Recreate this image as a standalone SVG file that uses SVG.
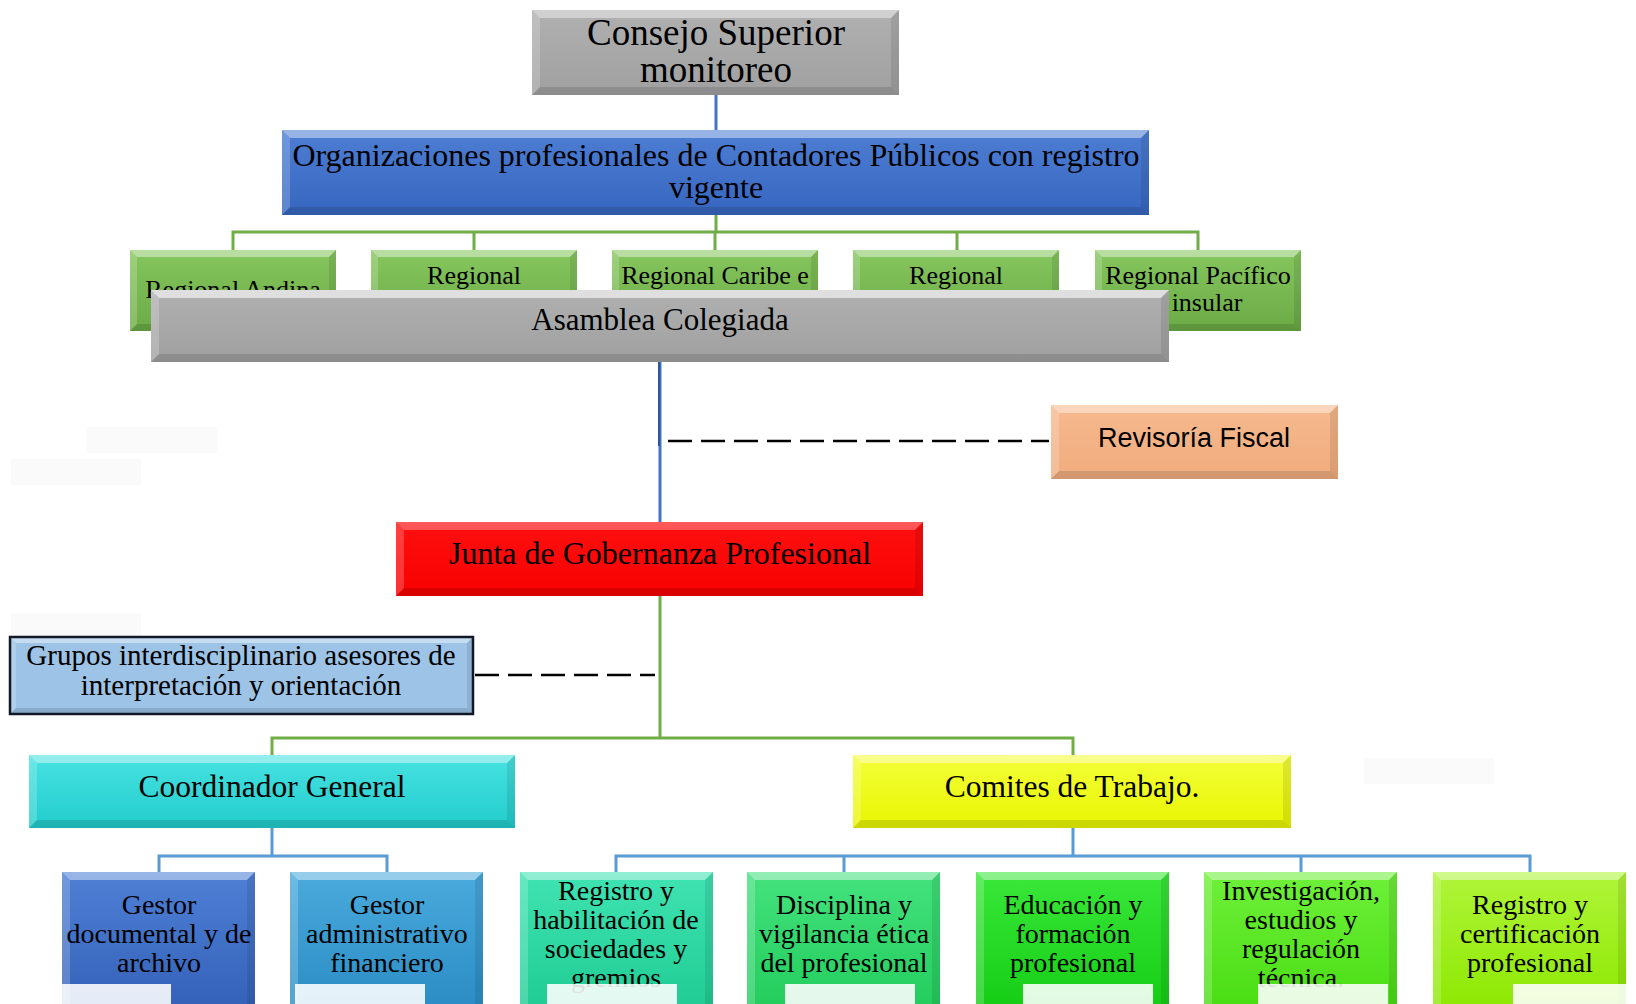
<svg xmlns="http://www.w3.org/2000/svg" width="1636" height="1004" viewBox="0 0 1636 1004">
<style>
.t{font-family:"Liberation Serif","Times New Roman",serif;fill:#000;text-anchor:middle}
.s{font-family:"Liberation Sans",Arial,sans-serif;fill:#000;text-anchor:middle}
.bt{fill:#fff;fill-opacity:.42}
.bl{fill:#fff;fill-opacity:.2}
.br{fill:#000;fill-opacity:.09}
.bb{fill:#000;fill-opacity:.12}
.cb{stroke:#4472C4;stroke-width:3;fill:none}
.cl{stroke:#5B9BD5;stroke-width:3;fill:none}
.cg{stroke:#70AD47;stroke-width:3;fill:none}
.dash{stroke:#000;stroke-width:2.5;stroke-dasharray:24 9;fill:none}
.pale{fill:#fff;fill-opacity:.88}
.faint{fill:#FAFAFA}
</style>
<defs>
<linearGradient id="gGray" x1="0" y1="0" x2="0" y2="1"><stop offset="0" stop-color="#B0B0B0"/><stop offset="1" stop-color="#A0A0A0"/></linearGradient>
<linearGradient id="gBlue" x1="0" y1="0" x2="0" y2="1"><stop offset="0" stop-color="#4D7ED3"/><stop offset="1" stop-color="#3766C0"/></linearGradient>
<linearGradient id="gReg" x1="0" y1="0" x2="0" y2="1"><stop offset="0" stop-color="#86C65E"/><stop offset="1" stop-color="#6BAA45"/></linearGradient>
<linearGradient id="gRev" x1="0" y1="0" x2="0" y2="1"><stop offset="0" stop-color="#F6B98E"/><stop offset="1" stop-color="#F0AC7E"/></linearGradient>
<linearGradient id="gRed" x1="0" y1="0" x2="0" y2="1"><stop offset="0" stop-color="#FF1010"/><stop offset="1" stop-color="#F80000"/></linearGradient>
<linearGradient id="gCyan" x1="0" y1="0" x2="0" y2="1"><stop offset="0" stop-color="#48E2E2"/><stop offset="1" stop-color="#22CCCC"/></linearGradient>
<linearGradient id="gYel" x1="0" y1="0" x2="0" y2="1"><stop offset="0" stop-color="#F4FF3A"/><stop offset="1" stop-color="#E8F500"/></linearGradient>
<linearGradient id="gB1" x1="0" y1="0" x2="0" y2="1"><stop offset="0" stop-color="#4E80D6"/><stop offset="1" stop-color="#3460B8"/></linearGradient>
<linearGradient id="gB2" x1="0" y1="0" x2="0" y2="1"><stop offset="0" stop-color="#4AAADD"/><stop offset="1" stop-color="#2A8CC4"/></linearGradient>
<linearGradient id="gB3" x1="0" y1="0" x2="0" y2="1"><stop offset="0" stop-color="#40E3B2"/><stop offset="1" stop-color="#1FCC92"/></linearGradient>
<linearGradient id="gB4" x1="0" y1="0" x2="0" y2="1"><stop offset="0" stop-color="#44E27E"/><stop offset="1" stop-color="#22CC5C"/></linearGradient>
<linearGradient id="gB5" x1="0" y1="0" x2="0" y2="1"><stop offset="0" stop-color="#3AE83A"/><stop offset="1" stop-color="#14CC14"/></linearGradient>
<linearGradient id="gB6" x1="0" y1="0" x2="0" y2="1"><stop offset="0" stop-color="#6FF03A"/><stop offset="1" stop-color="#48DD12"/></linearGradient>
<linearGradient id="gB7" x1="0" y1="0" x2="0" y2="1"><stop offset="0" stop-color="#B0F53A"/><stop offset="1" stop-color="#8CE800"/></linearGradient>
</defs>
<rect width="1636" height="1004" fill="#fff"/>
<g id="faint-marks">
<rect class="faint" x="87" y="427" width="130" height="26"/>
<rect class="faint" x="11" y="459" width="130" height="26"/>
<rect class="faint" x="11" y="613" width="130" height="24"/>
<rect class="faint" x="1364" y="758" width="130" height="26"/>
</g>
<g id="connectors">
<path class="cb" d="M716,95 V130"/>
<path class="cg" d="M716,215 V232 M233,250 V232 H1198 V250 M474,232 V250 M715,232 V250 M957,232 V250"/>
<path class="cb" d="M660,362 V522" stroke="#4F81D4"/>
<path d="M659,362 V446" stroke="#2F5597" stroke-width="2" fill="none"/>
<path class="dash" d="M668,441 H1049"/>
<path class="cg" d="M660,596 V738 M272,755 V738 H1073 V755"/>
<path class="dash" d="M475,675 H655"/>
<path class="cl" d="M272,828 V856 M159,872 V856 H387 V872"/>
<path class="cl" d="M1073,828 V856 M616,872 V856 H1530 V872 M844,856 V872 M1301,856 V872"/>
</g>
<g id="consejo">
<rect x="532" y="10" width="367" height="85" fill="url(#gGray)"/>
<polygon class="bt" points="532,10 899,10 891,18 540,18"/><polygon class="bl" points="532,10 540,18 540,87 532,95"/><polygon class="br" points="899,10 899,95 891,87 891,18"/><polygon class="bb" points="532,95 899,95 891,87 540,87"/>
<text class="t" x="716" y="45" font-size="37">Consejo Superior</text>
<text class="t" x="716" y="82" font-size="37">monitoreo</text>
</g>
<g id="organizaciones">
<rect x="282" y="130" width="867" height="85" fill="url(#gBlue)"/>
<polygon class="bt" points="282,130 1149,130 1141,138 290,138"/><polygon class="bl" points="282,130 290,138 290,207 282,215"/><polygon class="br" points="1149,130 1149,215 1141,207 1141,138"/><polygon class="bb" points="282,215 1149,215 1141,207 290,207"/>
<text class="t" x="716" y="166" font-size="32">Organizaciones profesionales de Contadores Públicos con registro</text>
<text class="t" x="716" y="198" font-size="32">vigente</text>
</g>
<g id="regional-andina">
<rect x="130" y="250" width="206" height="81" fill="url(#gReg)"/>
<polygon class="bt" points="130,250 336,250 329,257 137,257"/><polygon class="bl" points="130,250 137,257 137,324 130,331"/><polygon class="br" points="336,250 336,331 329,324 329,257"/><polygon class="bb" points="130,331 336,331 329,324 137,324"/>
<text class="t" x="233" y="298" font-size="26">Regional Andina</text>
</g>
<g id="regional-2">
<rect x="371" y="250" width="206" height="81" fill="url(#gReg)"/>
<polygon class="bt" points="371,250 577,250 570,257 378,257"/><polygon class="bl" points="371,250 378,257 378,324 371,331"/><polygon class="br" points="577,250 577,331 570,324 570,257"/><polygon class="bb" points="371,331 577,331 570,324 378,324"/>
<text class="t" x="474" y="284" font-size="26">Regional</text>
</g>
<g id="regional-caribe">
<rect x="612" y="250" width="206" height="81" fill="url(#gReg)"/>
<polygon class="bt" points="612,250 818,250 811,257 619,257"/><polygon class="bl" points="612,250 619,257 619,324 612,331"/><polygon class="br" points="818,250 818,331 811,324 811,257"/><polygon class="bb" points="612,331 818,331 811,324 619,324"/>
<text class="t" x="715" y="284" font-size="26">Regional Caribe e</text>
</g>
<g id="regional-4">
<rect x="853" y="250" width="206" height="81" fill="url(#gReg)"/>
<polygon class="bt" points="853,250 1059,250 1052,257 860,257"/><polygon class="bl" points="853,250 860,257 860,324 853,331"/><polygon class="br" points="1059,250 1059,331 1052,324 1052,257"/><polygon class="bb" points="853,331 1059,331 1052,324 860,324"/>
<text class="t" x="956" y="284" font-size="26">Regional</text>
</g>
<g id="regional-pacifico">
<rect x="1095" y="250" width="206" height="81" fill="url(#gReg)"/>
<polygon class="bt" points="1095,250 1301,250 1294,257 1102,257"/><polygon class="bl" points="1095,250 1102,257 1102,324 1095,331"/><polygon class="br" points="1301,250 1301,331 1294,324 1294,257"/><polygon class="bb" points="1095,331 1301,331 1294,324 1102,324"/>
<text class="t" x="1198" y="284" font-size="26">Regional Pacífico</text>
<text class="t" x="1198" y="311" font-size="26">e insular</text>
</g>
<g id="asamblea">
<rect x="151" y="290" width="1018" height="72" fill="url(#gGray)"/>
<polygon class="bt" points="151,290 1169,290 1161,298 159,298" style="fill-opacity:.6"/><polygon class="bl" points="151,290 159,298 159,354 151,362"/><polygon class="br" points="1169,290 1169,362 1161,354 1161,298"/><polygon class="bb" points="151,362 1169,362 1161,354 159,354"/>
<text class="t" x="660" y="330" font-size="31">Asamblea Colegiada</text>
</g>
<g id="revisoria">
<rect x="1051" y="405" width="287" height="74" fill="url(#gRev)"/>
<polygon class="bt" points="1051,405 1338,405 1330,413 1059,413"/><polygon class="bl" points="1051,405 1059,413 1059,471 1051,479"/><polygon class="br" points="1338,405 1338,479 1330,471 1330,413"/><polygon class="bb" points="1051,479 1338,479 1330,471 1059,471"/>
<text class="s" x="1194" y="447" font-size="27">Revisoría Fiscal</text>
</g>
<g id="junta">
<rect x="396" y="522" width="527" height="74" fill="url(#gRed)"/>
<polygon class="bt" points="396,522 923,522 915,530 404,530" style="fill-opacity:.3"/><polygon class="bl" points="396,522 404,530 404,588 396,596"/><polygon class="br" points="923,522 923,596 915,588 915,530"/><polygon class="bb" points="396,596 923,596 915,588 404,588"/>
<text class="t" x="660" y="564" font-size="32">Junta de Gobernanza Profesional</text>
</g>
<g id="grupos">
<rect x="10" y="637" width="463" height="77" fill="#9DC3E6"/>
<polygon class="bt" points="10,637 473,637 467,643 16,643"/><polygon class="bl" points="10,637 16,643 16,708 10,714"/><polygon class="br" points="473,637 473,714 467,708 467,643"/><polygon class="bb" points="10,714 473,714 467,708 16,708"/>
<rect x="10" y="637" width="463" height="77" fill="none" stroke="#111827" stroke-width="2.5"/>
<text class="t" x="241" y="665" font-size="29">Grupos interdisciplinario asesores de</text>
<text class="t" x="241" y="695" font-size="29">interpretación y orientación</text>
</g>
<g id="coordinador">
<rect x="29" y="755" width="486" height="73" fill="url(#gCyan)"/>
<polygon class="bt" points="29,755 515,755 507,763 37,763"/><polygon class="bl" points="29,755 37,763 37,820 29,828"/><polygon class="br" points="515,755 515,828 507,820 507,763"/><polygon class="bb" points="29,828 515,828 507,820 37,820"/>
<text class="t" x="272" y="797" font-size="31.5">Coordinador General</text>
</g>
<g id="comites">
<rect x="853" y="755" width="438" height="73" fill="url(#gYel)"/>
<polygon class="bt" points="853,755 1291,755 1283,763 861,763"/><polygon class="bl" points="853,755 861,763 861,820 853,828"/><polygon class="br" points="1291,755 1291,828 1283,820 1283,763"/><polygon class="bb" points="853,828 1291,828 1283,820 861,820"/>
<text class="t" x="1072" y="797" font-size="31.5">Comites de Trabajo.</text>
</g>
<g id="gestor-documental">
<rect x="62" y="872" width="193" height="140" fill="url(#gB1)"/>
<polygon class="bt" points="62,872 255,872 247,880 70,880"/><polygon class="bl" points="62,872 70,880 70,1004 62,1004"/><polygon class="br" points="255,872 255,1004 247,1004 247,880"/>
<text class="t" x="159" y="914" font-size="28">Gestor</text>
<text class="t" x="159" y="943" font-size="28">documental y de</text>
<text class="t" x="159" y="972" font-size="28">archivo</text>
</g>
<g id="gestor-administrativo">
<rect x="290" y="872" width="193" height="140" fill="url(#gB2)"/>
<polygon class="bt" points="290,872 483,872 475,880 298,880"/><polygon class="bl" points="290,872 298,880 298,1004 290,1004"/><polygon class="br" points="483,872 483,1004 475,1004 475,880"/>
<text class="t" x="387" y="914" font-size="28">Gestor</text>
<text class="t" x="387" y="943" font-size="28">administrativo</text>
<text class="t" x="387" y="972" font-size="28">financiero</text>
</g>
<g id="registro-habilitacion">
<rect x="520" y="872" width="193" height="140" fill="url(#gB3)"/>
<polygon class="bt" points="520,872 713,872 705,880 528,880"/><polygon class="bl" points="520,872 528,880 528,1004 520,1004"/><polygon class="br" points="713,872 713,1004 705,1004 705,880"/>
<text class="t" x="616" y="900" font-size="28">Registro y</text>
<text class="t" x="616" y="929" font-size="28">habilitación de</text>
<text class="t" x="616" y="958" font-size="28">sociedades y</text>
<text class="t" x="616" y="987" font-size="28">gremios</text>
</g>
<g id="disciplina">
<rect x="747" y="872" width="193" height="140" fill="url(#gB4)"/>
<polygon class="bt" points="747,872 940,872 932,880 755,880"/><polygon class="bl" points="747,872 755,880 755,1004 747,1004"/><polygon class="br" points="940,872 940,1004 932,1004 932,880"/>
<text class="t" x="844" y="914" font-size="28">Disciplina y</text>
<text class="t" x="844" y="943" font-size="28">vigilancia ética</text>
<text class="t" x="844" y="972" font-size="28">del profesional</text>
</g>
<g id="educacion">
<rect x="976" y="872" width="193" height="140" fill="url(#gB5)"/>
<polygon class="bt" points="976,872 1169,872 1161,880 984,880"/><polygon class="bl" points="976,872 984,880 984,1004 976,1004"/><polygon class="br" points="1169,872 1169,1004 1161,1004 1161,880"/>
<text class="t" x="1073" y="914" font-size="28">Educación y</text>
<text class="t" x="1073" y="943" font-size="28">formación</text>
<text class="t" x="1073" y="972" font-size="28">profesional</text>
</g>
<g id="investigacion">
<rect x="1204" y="872" width="193" height="140" fill="url(#gB6)"/>
<polygon class="bt" points="1204,872 1397,872 1389,880 1212,880"/><polygon class="bl" points="1204,872 1212,880 1212,1004 1204,1004"/><polygon class="br" points="1397,872 1397,1004 1389,1004 1389,880"/>
<text class="t" x="1301" y="900" font-size="28">Investigación,</text>
<text class="t" x="1301" y="929" font-size="28">estudios y</text>
<text class="t" x="1301" y="958" font-size="28">regulación</text>
<text class="t" x="1301" y="987" font-size="28">técnica.</text>
</g>
<g id="registro-certificacion">
<rect x="1433" y="872" width="193" height="140" fill="url(#gB7)"/>
<polygon class="bt" points="1433,872 1626,872 1618,880 1441,880"/><polygon class="bl" points="1433,872 1441,880 1441,1004 1433,1004"/><polygon class="br" points="1626,872 1626,1004 1618,1004 1618,880"/>
<text class="t" x="1530" y="914" font-size="28">Registro y</text>
<text class="t" x="1530" y="943" font-size="28">certificación</text>
<text class="t" x="1530" y="972" font-size="28">profesional</text>
</g>
<g id="pale-overlays">
<rect class="pale" x="41" y="984" width="130" height="20"/>
<rect class="pale" x="295" y="984" width="130" height="20"/>
<rect class="pale" x="547" y="984" width="130" height="20"/>
<rect class="pale" x="785" y="984" width="130" height="20"/>
<rect class="pale" x="1023" y="984" width="130" height="20"/>
<rect class="pale" x="1258" y="984" width="130" height="20"/>
<rect class="pale" x="1513" y="984" width="123" height="20"/>
</g>
</svg>
